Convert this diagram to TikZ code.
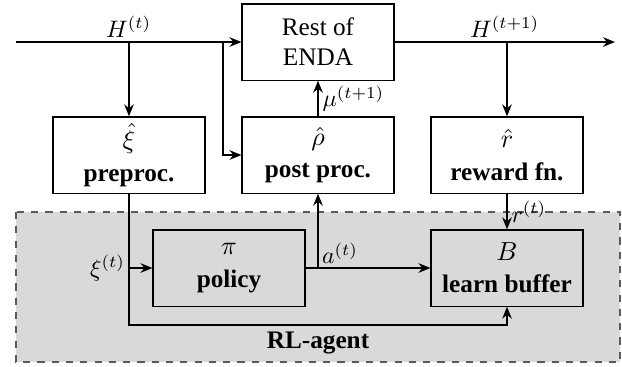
\documentclass[tikz,border=0pt]{standalone}
\usepackage{fontspec}
\setmainfont{Liberation Serif}
\usetikzlibrary{arrows.meta, positioning, calc, backgrounds}
\definecolor{AgentGray}{RGB}{217, 217, 217}
\definecolor{AgentEdge}{RGB}{90, 90, 90}

\tikzset{
  block/.style={draw, line width=0.5pt, minimum width=63.8pt, minimum height=32pt,
    align=center, inner sep=2pt, font=\fontsize{10.6}{12.6}\selectfont},
  flow/.style={line width=0.85pt, -{Stealth[length=5pt, width=4pt]}},
  wire/.style={line width=0.85pt},
  sig/.style={inner sep=1.5pt},
}

\begin{document}
\begin{tikzpicture}[x=0.42pt,y=-0.42pt]
  \path[use as bounding box] (0,0) rectangle (622,366);

  % RL-agent area
  \draw[AgentEdge, fill=AgentGray, dashed, line width=0.5pt] (16,212) rectangle (620,362);
  \node[font=\fontsize{10.6}{12.6}\selectfont\bfseries] (agentlbl) at (318,343) {RL-agent};

  % Blocks
  \node[block, fill=white] (rest) at (318,42) {Rest of\\ENDA};
  \node[block, fill=white] (prep) at (129,155) {$\hat{\xi}$\\[1pt]\textbf{preproc.}};
  \node[block, fill=white] (post) at (318,155) {$\hat{\rho}$\\[1pt]\textbf{post proc.}};
  \node[block, fill=white] (reward) at (507,155) {$\hat{r}$\\[1pt]\textbf{reward fn.}};
  \node[block] (policy) at (229,268) {$\pi$\\[1pt]\textbf{policy}};
  \node[block] (buffer) at (507,268) {$B$\\[1pt]\textbf{learn buffer}};

  % Junctions
  \coordinate (hin) at (16,42);
  \coordinate (hout) at (615,42);
  \coordinate (jprep) at (prep.north |- rest.west);
  \coordinate (jpost) at (223,42);
  \coordinate (jrew) at (reward.north |- rest.east);
  \coordinate (jpol) at (prep.south |- policy.west);
  \coordinate (jact) at (post.south |- policy.east);
  \coordinate (jlow) at (129,325);

  % Signals
  \draw[flow] (hin) -- node[above, sig] {$H^{(t)}$} (rest.west);
  \draw[flow] (jprep) -- (prep.north);
  \draw[flow] (jpost) |- (post.west);
  \draw[flow] (rest.east) -- node[above, sig] {$H^{(t+1)}$} (hout);
  \draw[flow] (jrew) -- (reward.north);
  \draw[flow] (post.north) -- node[right, sig] {$\mu^{(t+1)}$} (rest.south);
  \draw[flow] (reward.south) -- node[right, sig] {$r^{(t)}$} (buffer.north);
  \draw[wire] (prep.south) -- (jpol);
  \node[left, sig] (xilbl) at (jpol) {$\xi^{(t)}$};
  \draw[flow] (jpol) -- (policy.west);
  \draw[flow] (jpol) -- (jlow) -| (buffer.south);
  \draw[flow] (policy.east) -- (buffer.west);
  \node[above right, sig] (albl) at (jact) {$a^{(t)}$};
  \draw[flow] (jact) -- (post.south);
\end{tikzpicture}
\end{document}
